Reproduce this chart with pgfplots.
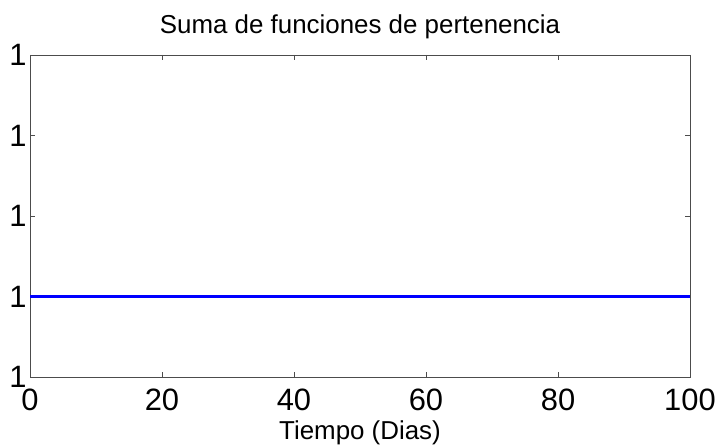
\documentclass[border=0pt]{standalone}
\usepackage{pgfplots}
\pgfplotsset{compat=1.18}
\usepackage{fontspec}
\setmainfont{Liberation Sans}
\begin{document}
\begin{tikzpicture}[x=1bp,y=1bp]
\begin{axis}[
  at={(30bp,70bp)}, anchor=south west,
  scale only axis, width=660bp, height=322bp,
  xmin=0, xmax=100, ymin=0, ymax=4,
  xtick={0,20,40,60,80,100},
  ytick={0,1,2,3,4},
  yticklabels={1,1,1,1,1},
  tick align=inside,
  major tick length=5bp,
  tick style={color=black!70, line width=0.6bp},
  axis line style={color=black!70, line width=0.8bp},
  /pgf/number format/assume math mode=true,
  ticklabel style={font=\fontsize{31}{31}\selectfont},
  xticklabel style={yshift=-8bp},
  title={Suma de funciones de pertenencia},
  title style={font=\fontsize{26}{26}\selectfont, yshift=7bp},
  xlabel={Tiempo (Dias)},
  xlabel style={font=\fontsize{26}{26}\selectfont, yshift=-4bp},
]
\addplot[blue, line width=2.6bp] coordinates {(0,1) (100,1)};
\end{axis}
\pgfresetboundingbox
\useasboundingbox (0,0) rectangle (717bp,447bp);
\end{tikzpicture}
\end{document}
